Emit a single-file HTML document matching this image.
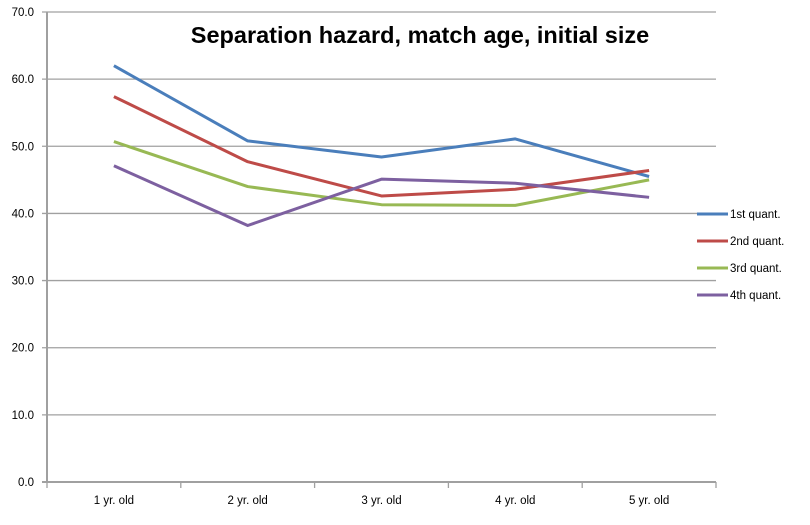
<!DOCTYPE html>
<html><head><meta charset="utf-8"><style>
body{margin:0;background:#fff;}
svg{font-family:"Liberation Sans",sans-serif;}
</style></head><body>
<svg id="chart" width="810" height="520">
<text x="420" y="43" text-anchor="middle" font-size="23.5" font-weight="bold" fill="#000">Separation hazard, match age, initial size</text>
<g id="grid"></g><g id="series"></g><g id="legend"></g>
</svg>
<script>
const categories=["1 yr. old","2 yr. old","3 yr. old","4 yr. old","5 yr. old"];
const seriesNames=["1st quant.","2nd quant.","3rd quant.","4th quant."];
const s1=[62.0,50.8,48.4,51.1,45.5];
const s2=[57.4,47.7,42.6,43.6,46.4];
const s3=[50.7,44.0,41.3,41.2,45.0];
const s4=[47.1,38.2,45.1,44.5,42.4];
const yTicks=[0,10,20,30,40,50,60,70];
const colors=["#4a7ebb","#be4b48","#98b954","#7d60a0"];
const NS="http://www.w3.org/2000/svg";
const L=47,R=716,T=12,B=482,YMAX=70;
const bw=(R-L)/categories.length;
const xs=i=>L+bw*(i+0.5);
const ys=v=>B-(v/YMAX)*(B-T);
function mk(t,a,p){const e=document.createElementNS(NS,t);for(const k in a)e.setAttribute(k,a[k]);p.appendChild(e);return e;}
const grid=document.getElementById('grid');
yTicks.forEach(v=>{
 const l=mk('line',{x1:L-5,x2:R,y1:ys(v),y2:ys(v),stroke:'#a0a0a0','stroke-width':v===0?2:1.3},grid);
 
 
 const t=mk('text',{x:L-13,y:ys(v)+4,'text-anchor':'end','font-size':11.5,fill:'#000'},grid);
 t.textContent=v.toFixed(1);
 
 
});
const ax=mk('line',{x1:L,x2:L,y1:T,y2:B,stroke:'#a0a0a0','stroke-width':2},grid);


for(let i=0;i<=categories.length;i++){mk('line',{x1:L+bw*i,x2:L+bw*i,y1:B,y2:B+6,stroke:'#a0a0a0','stroke-width':1.3},grid);}
categories.forEach((c,i)=>{
 const t=mk('text',{x:xs(i),y:B+22,'text-anchor':'middle','font-size':11.5,fill:'#000'},grid);
 t.textContent=c;
 
 
});
const sg=document.getElementById('series');
[s1,s2,s3,s4].forEach((d,k)=>{
 const p=mk('polyline',{points:d.map((v,i)=>xs(i)+','+ys(v)).join(' '),fill:'none',stroke:colors[k],'stroke-width':3,'stroke-linejoin':'round'},sg);
 
 
});
const lg=document.getElementById('legend');
seriesNames.forEach((n,k)=>{
 const y=214+k*27;
 const g=mk('g',{},lg);
 
 
 mk('line',{x1:697,x2:728,y1:y,y2:y,stroke:colors[k],'stroke-width':3},g);
 const t=mk('text',{x:730,y:y+4,'font-size':11.5,fill:'#000'},g);
 t.textContent=n;
});
</script>
</body></html>
